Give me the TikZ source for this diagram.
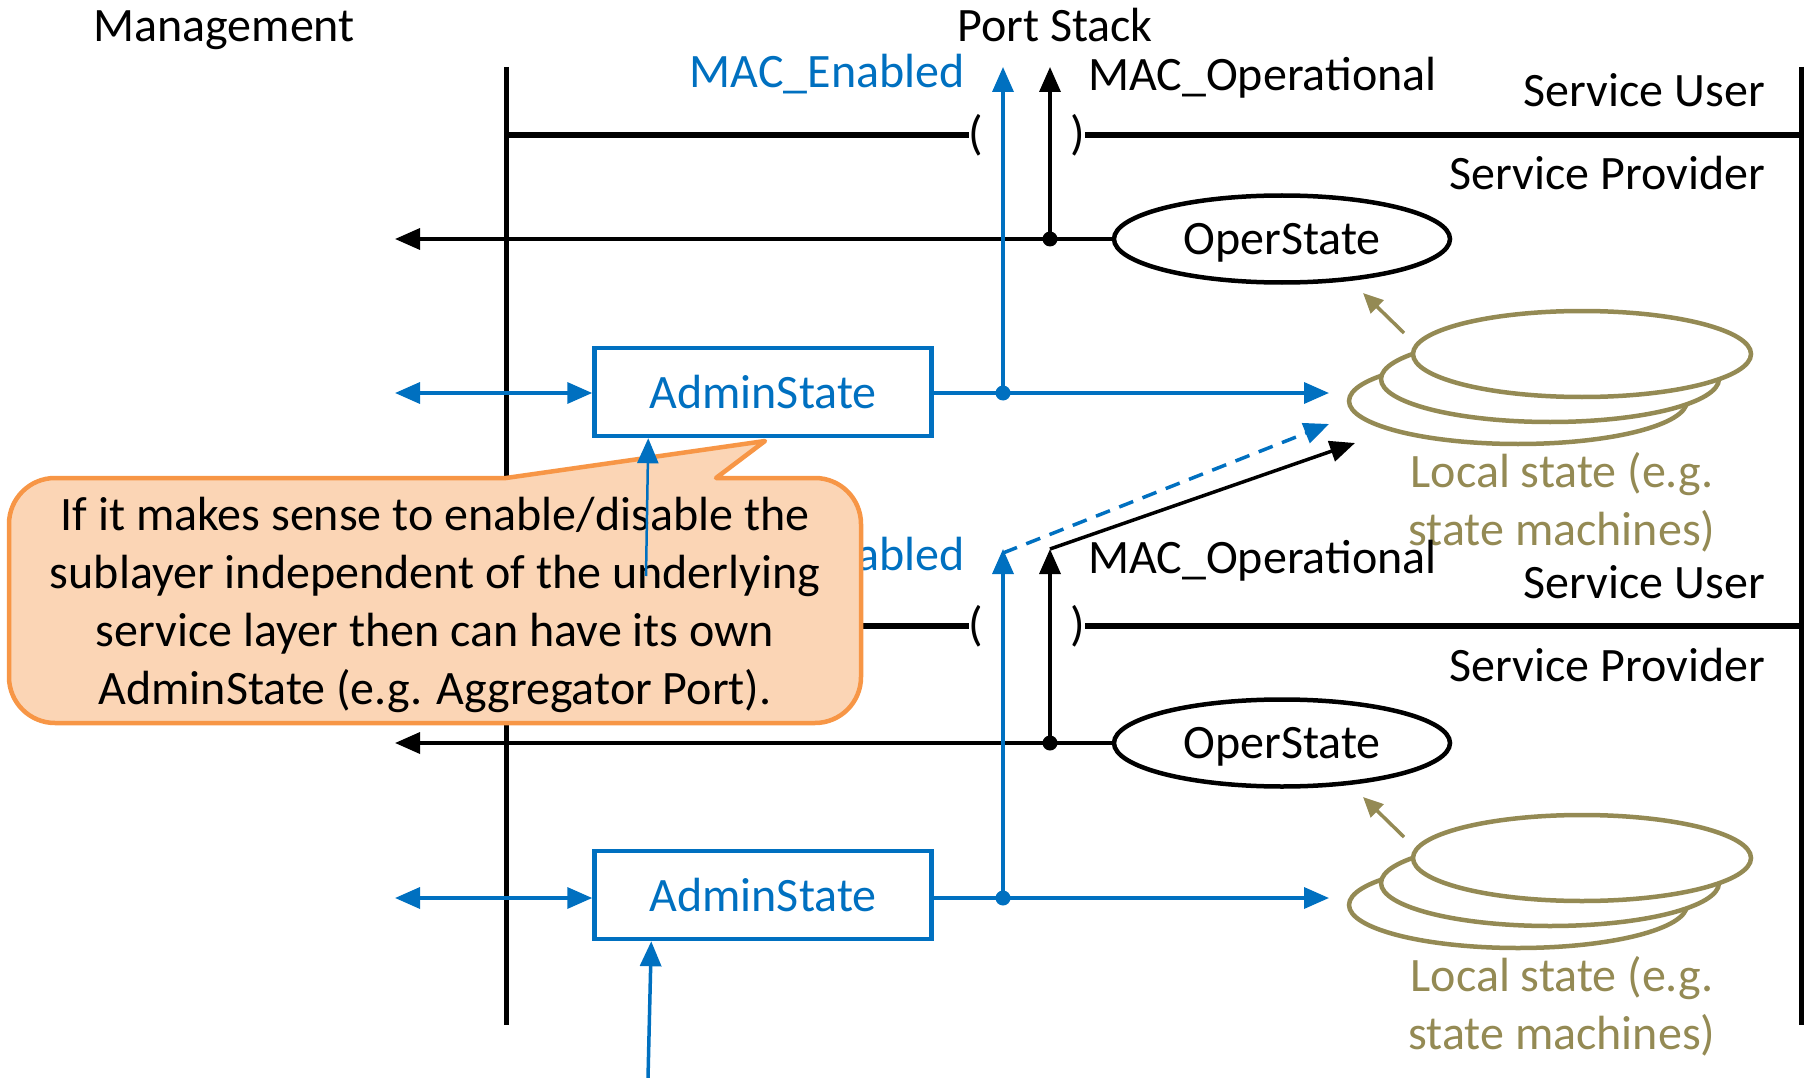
\documentclass[tikz,border=0pt]{standalone}
\usepackage{fontspec}
\setmainfont{Carlito}
\usetikzlibrary{arrows.meta,shapes.geometric}
\definecolor{mblue}{HTML}{0070C0}
\definecolor{olv}{HTML}{948A54}
\definecolor{cfill}{HTML}{FBD5B5}
\definecolor{cline}{HTML}{F79646}
\begin{document}
\begin{tikzpicture}[x=1pt,y=-1pt,
  lbl/.style={font=\fontsize{48}{58}\selectfont, inner sep=0pt},
  bar/.style={line width=5pt},
  layer/.style={line width=6pt},
  tipa/.style={-{Triangle[length=25pt,width=21pt]}},
  blk/.style={line width=3.5pt, tipa},
  blu/.style={line width=3.5pt, draw=mblue, tipa, mblue},
  oper/.style={ellipse, draw, line width=4.5pt, minimum width=336pt, minimum height=87pt, inner sep=0pt, text depth=0pt, font=\fontsize{48}{58}\selectfont},
  admin/.style={rectangle, draw=mblue, text=mblue, line width=4.5pt, minimum width=337pt, minimum height=88pt, inner sep=0pt, font=\fontsize{48}{58}\selectfont},
  lstate/.style={ellipse, draw=olv, fill=white, line width=4.5pt, minimum width=338pt, minimum height=86pt, inner sep=0pt},
  olvarrow/.style={line width=3.5pt, draw=olv, olv, -{Triangle[length=20pt,width=18pt]}}
]
\useasboundingbox (0,0) rectangle (1805,1078);

% vertical bars
\coordinate (LT) at (506,67); \coordinate (LB) at (506,1025);
\coordinate (RT) at (1801,67); \coordinate (RB) at (1801,1025);
\draw[bar] (LT) -- (LB);
\draw[bar] (RT) -- (RB);

% titles
\node[lbl, anchor=base] (mgmt) at (224,42) {Management};
\node[lbl, anchor=base] (ps) at (1055,42) {Port Stack};

% ================= upper layer =================
\node[lbl] (lp1) at (976,135) {(};
\node[lbl] (rp1) at (1078,135) {)};
\draw[layer] (LT |- lp1.west) -- (lp1.west);
\draw[layer] (rp1.east) -- (RT |- rp1.east);
\node[lbl, anchor=base east, text=mblue] (en1) at (965,88) {MAC\_Enabled};
\node[lbl, anchor=base west] (op1) at (1088,91) {MAC\_Operational};
\node[lbl, anchor=base east] (su1) at (1765,107) {Service User};
\node[lbl, anchor=base east] (sp1) at (1765,190) {Service Provider};

\node[oper] (os1) at (1282,239) {OperState};
\coordinate (od1) at (1050,239);
\coordinate (ot1) at (1050,67);
\coordinate (oa1) at (395,239);
\draw[blk] (os1.west) -- (oa1);
\draw[blk] (od1) -- (ot1);
\fill (od1) circle (7.5);

\node[admin] (as1) at (763,392) {AdminState};
\coordinate (ad1) at (1003,393);
\coordinate (et1) at (1003,67);
\coordinate (ae1) at (1329,393);
\coordinate (al1) at (395,393);
\draw[blu] (as1.east |- ad1) -- (ae1);
\draw[blu] (ad1) -- (et1);
\fill[mblue] (ad1) circle (7.5);
\draw[blu, {Triangle[length=25pt,width=21pt]}-{Triangle[length=25pt,width=21pt]}] (al1) -- (as1.west |- al1);

\node[lstate] (lsc1) at (1518,401) {};
\node[lstate] (lsb1) at (1550,379) {};
\node[lstate] (lsa1) at (1582,354) {};
\coordinate (oq1) at (1404,333);
\coordinate (or1) at (1363,293);
\draw[olvarrow] (oq1) -- (or1);
\node[lbl, text=olv, align=center] (lt1) at (1562,502) {Local state (e.g.\\state machines)};

% ================= lower layer =================
\node[lbl] (lp2) at (976,626) {(};
\node[lbl] (rp2) at (1078,626) {)};
\draw[layer] (LT |- lp2.west) -- (lp2.west);
\draw[layer] (rp2.east) -- (RT |- rp2.east);
\node[lbl, anchor=base east, text=mblue] (en2) at (965,570) {MAC\_Enabled};
\node[lbl, anchor=base west] (op2) at (1088,573) {MAC\_Operational};
\node[lbl, anchor=base east] (su2) at (1765,598) {Service User};
\node[lbl, anchor=base east] (sp2) at (1765,681) {Service Provider};

\node[oper] (os2) at (1282,743) {OperState};
\coordinate (od2) at (1050,743);
\coordinate (ot2) at (1050,549);
\coordinate (oa2) at (395,743);
\draw[blk] (os2.west) -- (oa2);
\draw[blk] (od2) -- (ot2);
\fill (od2) circle (7.5);

\node[admin] (as2) at (763,895) {AdminState};
\coordinate (ad2) at (1003,898);
\coordinate (et2) at (1003,549);
\coordinate (ae2) at (1329,898);
\coordinate (al2) at (395,898);
\draw[blu] (as2.east |- ad2) -- (ae2);
\draw[blu] (ad2) -- (et2);
\fill[mblue] (ad2) circle (7.5);
\draw[blu, {Triangle[length=25pt,width=21pt]}-{Triangle[length=25pt,width=21pt]}] (al2) -- (as2.west |- al2);

\node[lstate] (lsc2) at (1518,905) {};
\node[lstate] (lsb2) at (1550,883) {};
\node[lstate] (lsa2) at (1582,858) {};
\coordinate (oq2) at (1404,837);
\coordinate (or2) at (1363,797);
\draw[olvarrow] (oq2) -- (or2);
\node[lbl, text=olv, align=center] (lt2) at (1562,1006) {Local state (e.g.\\state machines)};

% cross-layer arrows
\coordinate (dd) at (1329,424);
\coordinate (bk) at (1355,443);
\draw[blu, dashed, dash pattern=on 15pt off 10pt] ([yshift=-4pt]et2) -- (dd);
\draw[blk] (ot2) -- (bk);

% bottom input to lower AdminState
\coordinate (bin) at (648,1078);
\draw[blu] (bin) -- ([xshift=59pt]as2.south west);

% ================= callout =================
\draw[line width=4.5pt, draw=cline, fill=cfill, line join=round]
  (716,478) -- (815,478) arc[start angle=90, end angle=0, x radius=46, y radius=-46]
  -- (861,677) arc[start angle=0, end angle=-90, x radius=46, y radius=-46]
  -- (55,723) arc[start angle=-90, end angle=-180, x radius=46, y radius=-46]
  -- (9,524) arc[start angle=180, end angle=90, x radius=46, y radius=-46]
  -- (506,478) -- (765,441) -- cycle;
\node[lbl, align=center] (call) at (435,605) {If it makes sense to enable/disable the\\sublayer independent of the underlying\\service layer then can have its own\\AdminState (e.g. Aggregator Port).};
\coordinate (cs) at (646,576);
\draw[blu, line width=2.5pt] (cs) -- ([xshift=56pt]as1.south west);
\end{tikzpicture}
\end{document}
